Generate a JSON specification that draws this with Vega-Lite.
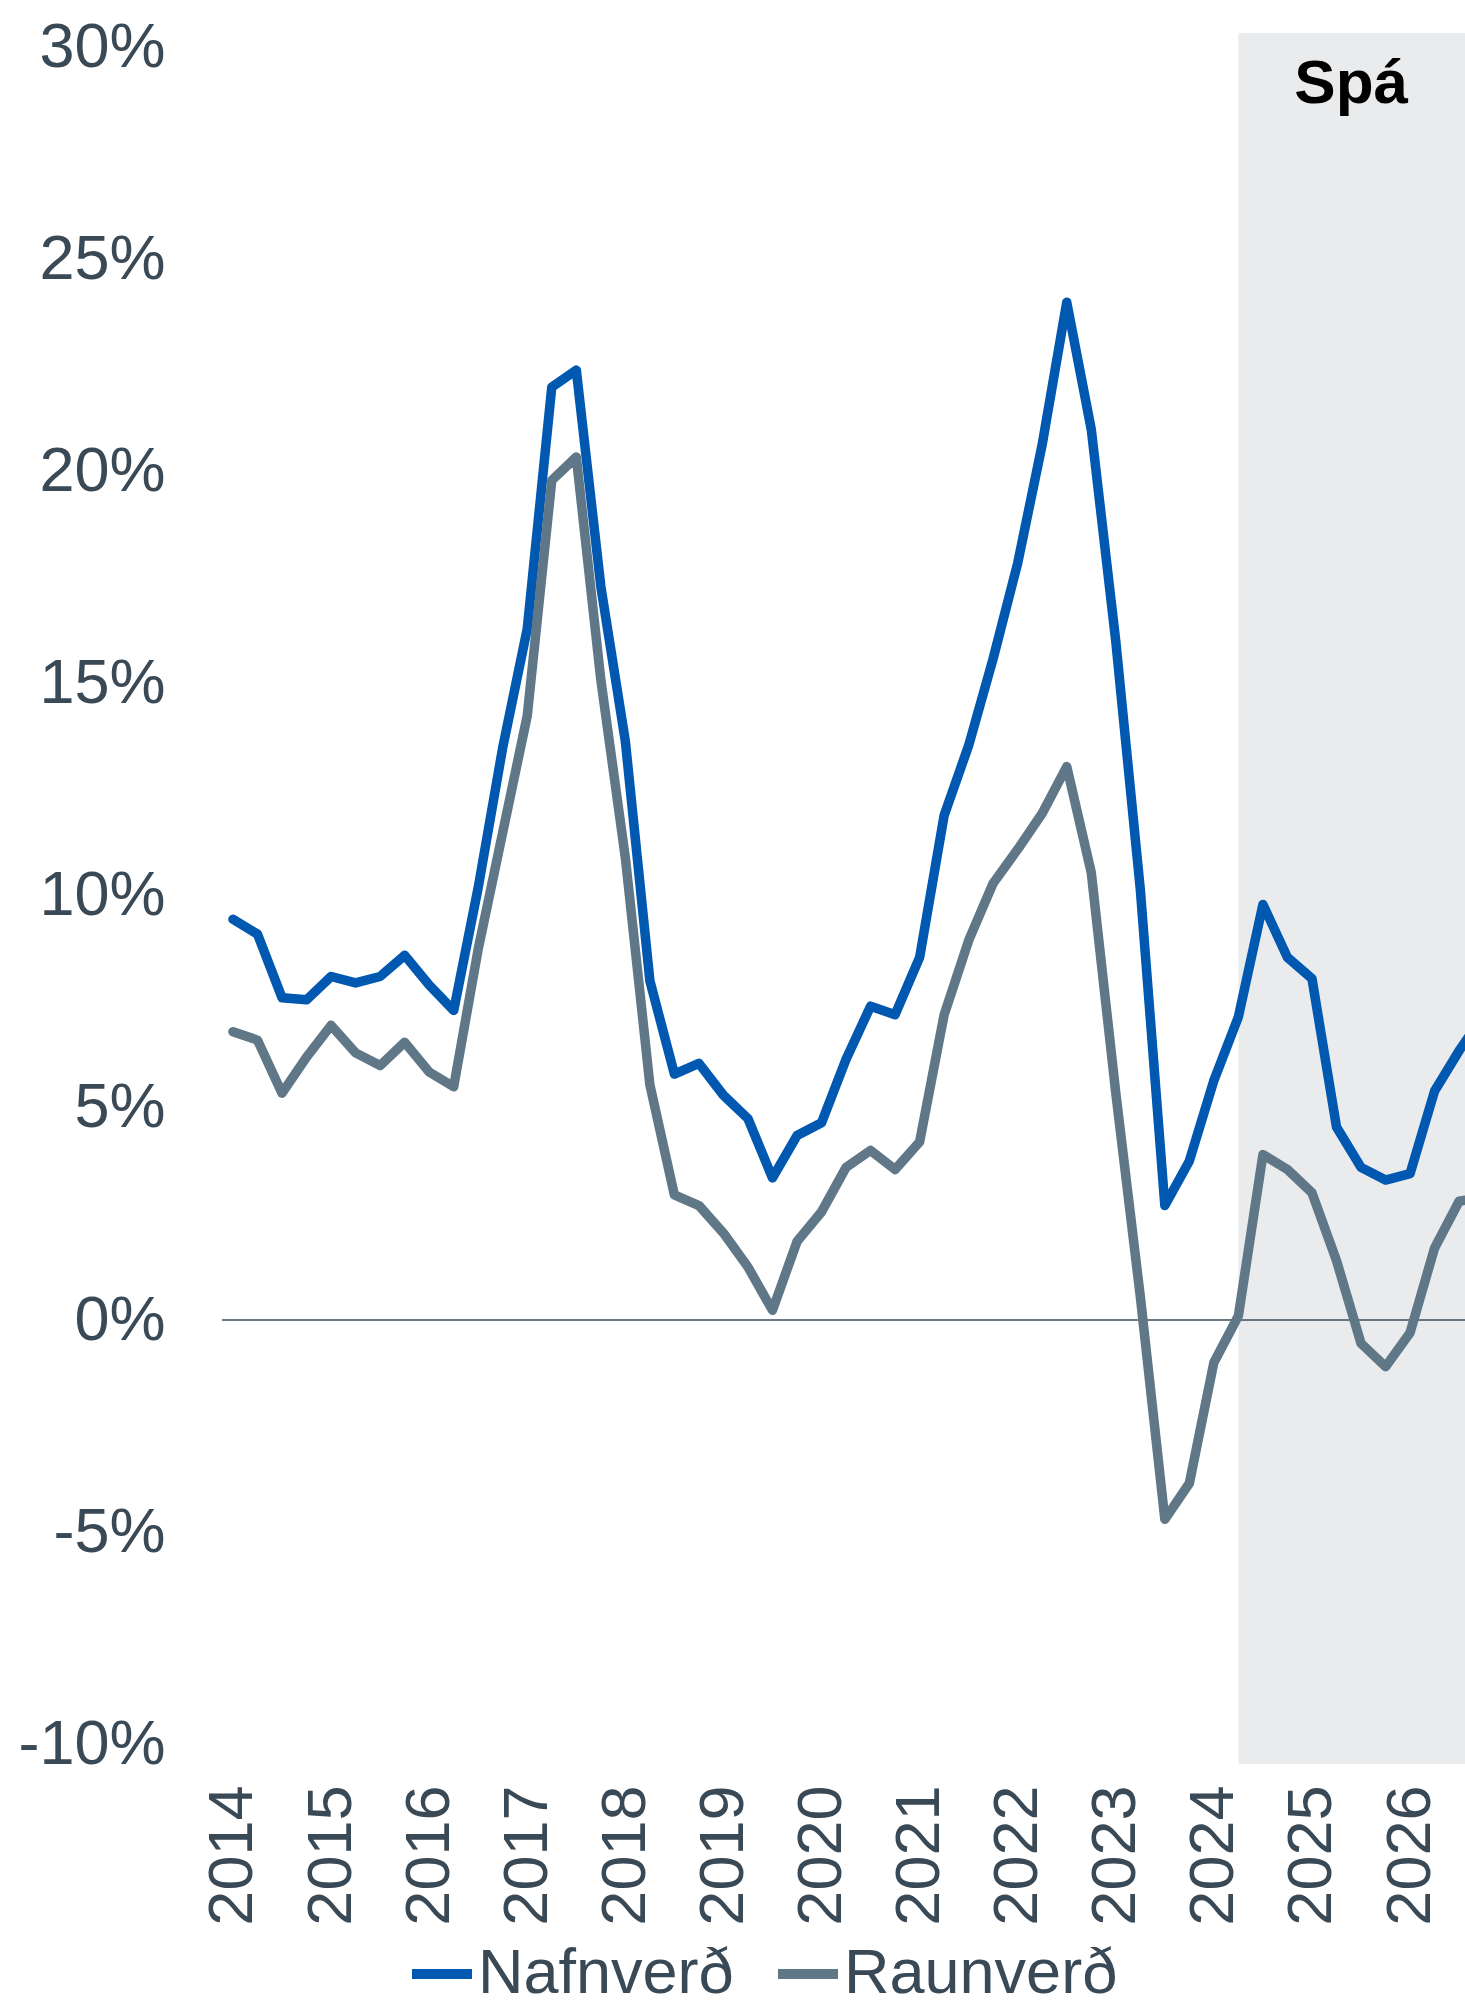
{
  "$schema": "https://vega.github.io/schema/vega-lite/v6.json",
  "width": 1243,
  "height": 1731,
  "autosize": {"type": "none"},
  "padding": {"left": 222, "top": 33, "right": 0, "bottom": 248},
  "background": "white",
  "config": {"view": {"stroke": null}, "font": "Liberation Sans"},
  "datasets": {
    "series": [
      {"t":2014,"s":"Nafnverð","v":9.45},{"t":2014.25,"s":"Nafnverð","v":9.1},{"t":2014.5,"s":"Nafnverð","v":7.6},{"t":2014.75,"s":"Nafnverð","v":7.55},
      {"t":2015,"s":"Nafnverð","v":8.1},{"t":2015.25,"s":"Nafnverð","v":7.95},{"t":2015.5,"s":"Nafnverð","v":8.1},{"t":2015.75,"s":"Nafnverð","v":8.6},
      {"t":2016,"s":"Nafnverð","v":7.9},{"t":2016.25,"s":"Nafnverð","v":7.3},{"t":2016.5,"s":"Nafnverð","v":10.2},{"t":2016.75,"s":"Nafnverð","v":13.5},
      {"t":2017,"s":"Nafnverð","v":16.3},{"t":2017.25,"s":"Nafnverð","v":22.0},{"t":2017.5,"s":"Nafnverð","v":22.4},{"t":2017.75,"s":"Nafnverð","v":17.3},
      {"t":2018,"s":"Nafnverð","v":13.65},{"t":2018.25,"s":"Nafnverð","v":8.0},{"t":2018.5,"s":"Nafnverð","v":5.8},{"t":2018.75,"s":"Nafnverð","v":6.05},
      {"t":2019,"s":"Nafnverð","v":5.3},{"t":2019.25,"s":"Nafnverð","v":4.75},{"t":2019.5,"s":"Nafnverð","v":3.35},{"t":2019.75,"s":"Nafnverð","v":4.35},
      {"t":2020,"s":"Nafnverð","v":4.65},{"t":2020.25,"s":"Nafnverð","v":6.15},{"t":2020.5,"s":"Nafnverð","v":7.4},{"t":2020.75,"s":"Nafnverð","v":7.2},
      {"t":2021,"s":"Nafnverð","v":8.55},{"t":2021.25,"s":"Nafnverð","v":11.9},{"t":2021.5,"s":"Nafnverð","v":13.55},{"t":2021.75,"s":"Nafnverð","v":15.6},
      {"t":2022,"s":"Nafnverð","v":17.85},{"t":2022.25,"s":"Nafnverð","v":20.65},{"t":2022.5,"s":"Nafnverð","v":24.0},{"t":2022.75,"s":"Nafnverð","v":21.0},
      {"t":2023,"s":"Nafnverð","v":16.0},{"t":2023.25,"s":"Nafnverð","v":10.15},{"t":2023.5,"s":"Nafnverð","v":2.7},{"t":2023.75,"s":"Nafnverð","v":3.75},
      {"t":2024,"s":"Nafnverð","v":5.65},{"t":2024.25,"s":"Nafnverð","v":7.15},{"t":2024.5,"s":"Nafnverð","v":9.8},{"t":2024.75,"s":"Nafnverð","v":8.55},
      {"t":2025,"s":"Nafnverð","v":8.05},{"t":2025.25,"s":"Nafnverð","v":4.55},{"t":2025.5,"s":"Nafnverð","v":3.6},{"t":2025.75,"s":"Nafnverð","v":3.3},
      {"t":2026,"s":"Nafnverð","v":3.45},{"t":2026.25,"s":"Nafnverð","v":5.4},{"t":2026.5,"s":"Nafnverð","v":6.35},{"t":2026.75,"s":"Nafnverð","v":7.2},
      {"t":2014,"s":"Raunverð","v":6.8},{"t":2014.25,"s":"Raunverð","v":6.6},{"t":2014.5,"s":"Raunverð","v":5.35},{"t":2014.75,"s":"Raunverð","v":6.2},
      {"t":2015,"s":"Raunverð","v":6.95},{"t":2015.25,"s":"Raunverð","v":6.3},{"t":2015.5,"s":"Raunverð","v":6.0},{"t":2015.75,"s":"Raunverð","v":6.55},
      {"t":2016,"s":"Raunverð","v":5.85},{"t":2016.25,"s":"Raunverð","v":5.5},{"t":2016.5,"s":"Raunverð","v":8.75},{"t":2016.75,"s":"Raunverð","v":11.5},
      {"t":2017,"s":"Raunverð","v":14.25},{"t":2017.25,"s":"Raunverð","v":19.8},{"t":2017.5,"s":"Raunverð","v":20.35},{"t":2017.75,"s":"Raunverð","v":15.1},
      {"t":2018,"s":"Raunverð","v":10.9},{"t":2018.25,"s":"Raunverð","v":5.55},{"t":2018.5,"s":"Raunverð","v":2.95},{"t":2018.75,"s":"Raunverð","v":2.7},
      {"t":2019,"s":"Raunverð","v":2.05},{"t":2019.25,"s":"Raunverð","v":1.25},{"t":2019.5,"s":"Raunverð","v":0.23},{"t":2019.75,"s":"Raunverð","v":1.85},
      {"t":2020,"s":"Raunverð","v":2.55},{"t":2020.25,"s":"Raunverð","v":3.6},{"t":2020.5,"s":"Raunverð","v":4.0},{"t":2020.75,"s":"Raunverð","v":3.55},
      {"t":2021,"s":"Raunverð","v":4.2},{"t":2021.25,"s":"Raunverð","v":7.2},{"t":2021.5,"s":"Raunverð","v":8.95},{"t":2021.75,"s":"Raunverð","v":10.3},
      {"t":2022,"s":"Raunverð","v":11.1},{"t":2022.25,"s":"Raunverð","v":11.95},{"t":2022.5,"s":"Raunverð","v":13.05},{"t":2022.75,"s":"Raunverð","v":10.55},
      {"t":2023,"s":"Raunverð","v":5.35},{"t":2023.25,"s":"Raunverð","v":0.55},{"t":2023.5,"s":"Raunverð","v":-4.7},{"t":2023.75,"s":"Raunverð","v":-3.85},
      {"t":2024,"s":"Raunverð","v":-1.0},{"t":2024.25,"s":"Raunverð","v":0.1},{"t":2024.5,"s":"Raunverð","v":3.9},{"t":2024.75,"s":"Raunverð","v":3.55},
      {"t":2025,"s":"Raunverð","v":3.0},{"t":2025.25,"s":"Raunverð","v":1.4},{"t":2025.5,"s":"Raunverð","v":-0.55},{"t":2025.75,"s":"Raunverð","v":-1.1},
      {"t":2026,"s":"Raunverð","v":-0.3},{"t":2026.25,"s":"Raunverð","v":1.7},{"t":2026.5,"s":"Raunverð","v":2.8},{"t":2026.75,"s":"Raunverð","v":2.9}
    ]
  },
  "layer": [
    {
      "data": {"values": [{"start": 2024.25, "end": 2027}]},
      "mark": {"type": "rect", "color": "#e9ebed", "clip": true},
      "encoding": {
        "x": {"field": "start", "type": "quantitative"},
        "x2": {"field": "end"}
      }
    },
    {
      "data": {"values": [{"zero": 0}]},
      "mark": {"type": "rule", "color": "#3d4c58", "strokeWidth": 1.5},
      "encoding": {"y": {"field": "zero", "type": "quantitative"}}
    },
    {
      "data": {"name": "series"},
      "mark": {"type": "line", "strokeWidth": 9.5, "strokeCap": "round", "strokeJoin": "round", "clip": true},
      "encoding": {
        "x": {
          "field": "t", "type": "quantitative",
          "scale": {"domain": [2013.888, 2026.56], "nice": false, "zero": false},
          "axis": {
            "values": [2014,2015,2016,2017,2018,2019,2020,2021,2022,2023,2024,2025,2026],
            "format": "d", "labelAngle": 270, "labelFontSize": 63, "labelColor": "#3a4956",
            "labelPadding": 21, "domain": false, "ticks": false, "grid": false, "title": null,
            "labelFlush": false, "labelOverlap": false, "labelBound": false
          }
        },
        "y": {
          "field": "v", "type": "quantitative",
          "scale": {"domain": [-10.47, 30.35], "nice": false, "zero": false},
          "axis": {
            "values": [-10,-5,0,5,10,15,20,25,30],
            "labelExpr": "datum.value + '%'",
            "labelFontSize": 63, "labelColor": "#3a4956", "labelPadding": 57,
            "domain": false, "ticks": false, "grid": false, "title": null,
            "labelOverlap": false, "labelFlush": false, "labelBound": false
          }
        },
        "color": {
          "field": "s", "type": "nominal",
          "scale": {"domain": ["Nafnverð", "Raunverð"], "range": ["#0058b0", "#607788"]},
          "legend": {
            "orient": "none", "legendX": 185, "legendY": 1906, "direction": "horizontal",
            "title": null, "symbolType": "stroke", "symbolSize": 3600, "symbolStrokeWidth": 10,
            "labelFontSize": 63, "labelColor": "#3a4956", "labelLimit": 500,
            "labelOffset": 1, "columnPadding": 24
          }
        }
      }
    },
    {
      "data": {"values": [{"x": 2025.4, "y": 28.7, "label": "Spá"}]},
      "mark": {"type": "text", "fontSize": 62, "fontWeight": "bold", "color": "#000000", "align": "center", "baseline": "alphabetic"},
      "encoding": {
        "x": {"field": "x", "type": "quantitative"},
        "y": {"field": "y", "type": "quantitative"},
        "text": {"field": "label"}
      }
    }
  ]
}
